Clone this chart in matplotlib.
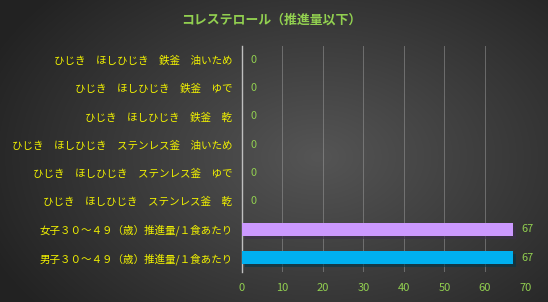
"""Cholesterol bar chart recreated with matplotlib."""

import matplotlib
matplotlib.use("Agg")
import matplotlib.pyplot as plt
import matplotlib.patheffects as pe
import numpy as np

plt.rcParams["font.family"] = ["Noto Sans CJK JP", "DejaVu Sans"]

# data, bottom row first
categories = [
    "男子３０～４９（歳）推進量/１食あたり",
    "女子３０～４９（歳）推進量/１食あたり",
    "ひじき　ほしひじき　ステンレス釜　乾",
    "ひじき　ほしひじき　ステンレス釜　ゆで",
    "ひじき　ほしひじき　ステンレス釜　油いため",
    "ひじき　ほしひじき　鉄釜　乾",
    "ひじき　ほしひじき　鉄釜　ゆで",
    "ひじき　ほしひじき　鉄釜　油いため",
]
values = [67, 67, 0, 0, 0, 0, 0, 0]
bar_colors = ["#00B0F0", "#CC99FF", "#4F81BD", "#4F81BD", "#4F81BD", "#4F81BD", "#4F81BD", "#4F81BD"]
x_ticks = [0, 10, 20, 30, 40, 50, 60, 70]
title = "コレステロール（推進量以下）"

GREEN = "#92D050"
YELLOW = "#F2F200"

fig = plt.figure(figsize=(5.48, 3.02), dpi=100)

# radial gradient background, lighter towards the middle
bg = fig.add_axes([0, 0, 1, 1], zorder=-10)
yy, xx = np.mgrid[0:1:302j, 0:1:548j]
dist = np.sqrt(((xx - 0.58) * 1.1) ** 2 + ((yy - 0.52) * 0.9) ** 2)
shade = np.clip(0x55 - dist * 70, 0x22, 0x55) / 255.0
bg.imshow(np.dstack([shade, shade, shade]), aspect="auto", extent=[0, 1, 0, 1])
bg.axis("off")

ax = fig.add_axes([0.4416, 0.1006, 0.5173, 0.7478])
ax.set_facecolor("none")

y = np.arange(len(categories))
bars = ax.barh(y, values, height=0.46, color=bar_colors, zorder=3)
for bar in bars:
    bar.set_path_effects([pe.SimplePatchShadow(offset=(2, -2), alpha=0.6), pe.Normal()])

for yi, v in zip(y, values):
    ax.annotate(str(v), (v, yi), xytext=(6, 0), textcoords="offset points",
                ha="left", va="center", color=GREEN, fontsize=7.8)

ax.set_xlim(0, 70)
ax.set_ylim(-0.5, len(categories) - 0.5)
ax.set_xticks(x_ticks)
ax.set_yticks(y)
ax.set_yticklabels(categories)
ax.tick_params(axis="y", length=0, pad=7, labelcolor=YELLOW, labelsize=7.6)
ax.tick_params(axis="x", length=0, pad=8, labelcolor=GREEN, labelsize=8)
ax.grid(axis="x", color="#a0a0a0", linewidth=0.7, alpha=0.5, zorder=0)
for side in ("top", "right", "bottom"):
    ax.spines[side].set_visible(False)
ax.spines["left"].set_color("#BFBFBF")
ax.spines["left"].set_linewidth(1.0)

fig.text(0.495, 0.935, title, ha="center", va="center", color=GREEN,
         fontsize=9.3, fontweight="bold")

fig.savefig("out.png", dpi=100)
